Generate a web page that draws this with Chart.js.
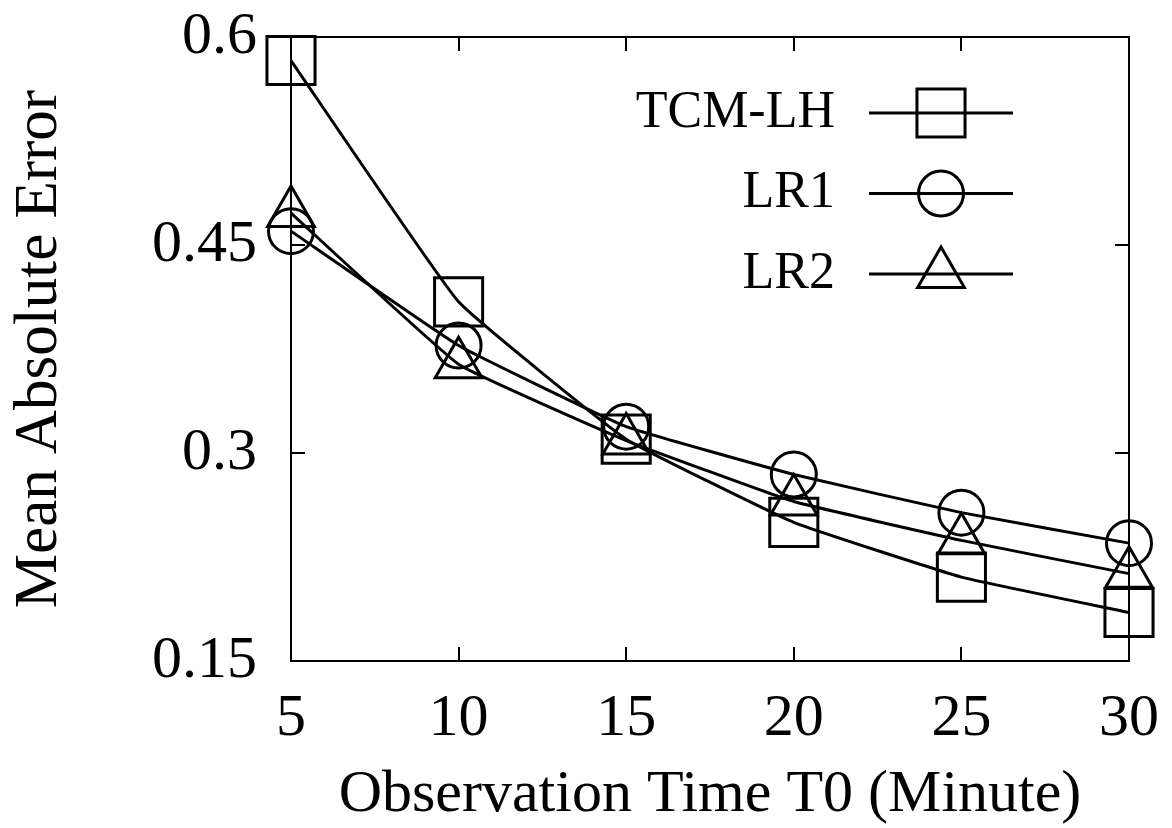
<!DOCTYPE html>
<html>
<head>
<meta charset="utf-8">
<script src="https://cdn.jsdelivr.net/npm/chart.js@4"></script>
<style>
  html, body { margin: 0; padding: 0; background: #fff; }
  canvas { display: block; }
</style>
</head>
<body>
<canvas id="chart" width="1172" height="828"></canvas>
<script>
// Observation time T0 (minutes) and mean absolute error per method
const categories = [5, 10, 15, 20, 25, 30];
const tcmLH = [0.583, 0.409, 0.310, 0.250, 0.2105, 0.185];
const lr1   = [0.460, 0.3775, 0.319, 0.2845, 0.257, 0.235];
const lr2   = [0.473, 0.364, 0.309, 0.265, 0.237, 0.213];
const seriesNames = ['TCM-LH', 'LR1', 'LR2'];
const yTicks = [0.15, 0.3, 0.45, 0.6];
const yTickLabels = ['0.15', '0.3', '0.45', '0.6'];

const SERIF = '"Liberation Serif", "Times New Roman", serif';
const INK = '#000';

// Box around the plot area with inward tick marks on all four sides
const framePlugin = {
  id: 'frame',
  beforeDatasetsDraw(chart) {
    const { ctx, chartArea: a, scales } = chart;
    const len = 14;
    ctx.save();
    ctx.strokeStyle = INK;
    ctx.lineWidth = 2;
    ctx.strokeRect(a.left, a.top, a.right - a.left, a.bottom - a.top);
    ctx.beginPath();
    categories.forEach((c, i) => {
      if (i === 0 || i === categories.length - 1) return;
      const x = Math.round(scales.x.getPixelForValue(i));
      ctx.moveTo(x, a.bottom); ctx.lineTo(x, a.bottom - len);
      ctx.moveTo(x, a.top);    ctx.lineTo(x, a.top + len);
    });
    yTicks.forEach((v, i) => {
      if (i === 0 || i === yTicks.length - 1) return;
      const y = Math.round(scales.y.getPixelForValue(v));
      ctx.moveTo(a.left, y);  ctx.lineTo(a.left + len, y);
      ctx.moveTo(a.right, y); ctx.lineTo(a.right - len, y);
    });
    ctx.stroke();
    ctx.restore();
  }
};

// Key in the upper right: name, then a line sample with the series marker
const keyPlugin = {
  id: 'key',
  afterDatasetsDraw(chart) {
    const { ctx, chartArea: a } = chart;
    const textRight = a.left + 544;
    const lineStart = a.left + 578;
    const lineEnd = a.left + 722;
    const mid = (lineStart + lineEnd) / 2;
    ctx.save();
    chart.data.datasets.forEach((ds, i) => {
      const y = a.top + 76 + i * 80.5;
      ctx.fillStyle = INK;
      ctx.font = '52px ' + SERIF;
      ctx.textAlign = 'right';
      ctx.textBaseline = 'middle';
      ctx.fillText(ds.label, textRight, y);
      ctx.strokeStyle = INK;
      ctx.lineWidth = ds.borderWidth;
      ctx.beginPath();
      ctx.moveTo(lineStart, y);
      ctx.lineTo(lineEnd, y);
      ctx.stroke();
      ctx.fillStyle = 'rgba(0,0,0,0)';
      ctx.lineWidth = ds.pointBorderWidth;
      Chart.helpers.drawPoint(ctx, {
        pointStyle: ds.pointStyle,
        radius: ds.pointRadius,
        rotation: 0,
        borderWidth: ds.pointBorderWidth
      }, mid, y);
    });
    ctx.restore();
  }
};

function series(label, values, style, radius) {
  return {
    label,
    data: values,
    borderColor: INK,
    borderWidth: 3,
    tension: 0.1,
    fill: false,
    clip: false,
    pointStyle: style,
    pointRadius: radius,
    pointHoverRadius: radius,
    pointBorderWidth: 3,
    pointBorderColor: INK,
    pointBackgroundColor: 'rgba(0,0,0,0)'
  };
}

// Axis boxes keep fixed sizes and no label overhang, so the plot area is set by layout padding
function noOverhang(s) {
  s.paddingTop = 0; s.paddingBottom = 0; s.paddingLeft = 0; s.paddingRight = 0;
}

new Chart(document.getElementById('chart'), {
  type: 'line',
  data: {
    labels: categories.map(String),
    datasets: [
      series(seriesNames[0], tcmLH, 'rect', 34),
      series(seriesNames[1], lr1, 'circle', 22.5),
      series(seriesNames[2], lr2, 'triangle', 27)
    ]
  },
  options: {
    responsive: false,
    animation: false,
    events: [],
    layout: { padding: { top: 36, right: 43, left: 0, bottom: 0 } },
    plugins: {
      legend: { display: false },
      tooltip: { enabled: false }
    },
    scales: {
      x: {
        type: 'category',
        offset: false,
        grid: { display: false, drawTicks: false },
        border: { display: false },
        ticks: {
          color: INK,
          font: { family: SERIF, size: 60 },
          padding: 22,
          maxRotation: 0,
          autoSkip: false
        },
        title: {
          display: true,
          text: 'Observation Time T0 (Minute)',
          color: INK,
          font: { family: SERIF, size: 60, lineHeight: 1.1 },
          padding: 0
        },
        afterFit(s) { s.height = 167; noOverhang(s); }
      },
      y: {
        type: 'linear',
        min: 0.15,
        max: 0.6,
        grid: { display: false, drawTicks: false },
        border: { display: false },
        afterBuildTicks(s) { s.ticks = yTicks.map(v => ({ value: v })); },
        ticks: {
          color: INK,
          font: { family: SERIF, size: 60 },
          padding: 34,
          callback: (v, i) => yTickLabels[i]
        },
        title: {
          display: true,
          text: 'Mean Absolute Error',
          color: INK,
          font: { family: SERIF, size: 61, lineHeight: 1.2 },
          padding: { top: 3, bottom: 0 }
        },
        afterFit(s) { s.width = 291; noOverhang(s); }
      }
    }
  },
  plugins: [framePlugin, keyPlugin]
});
</script>
</body>
</html>
